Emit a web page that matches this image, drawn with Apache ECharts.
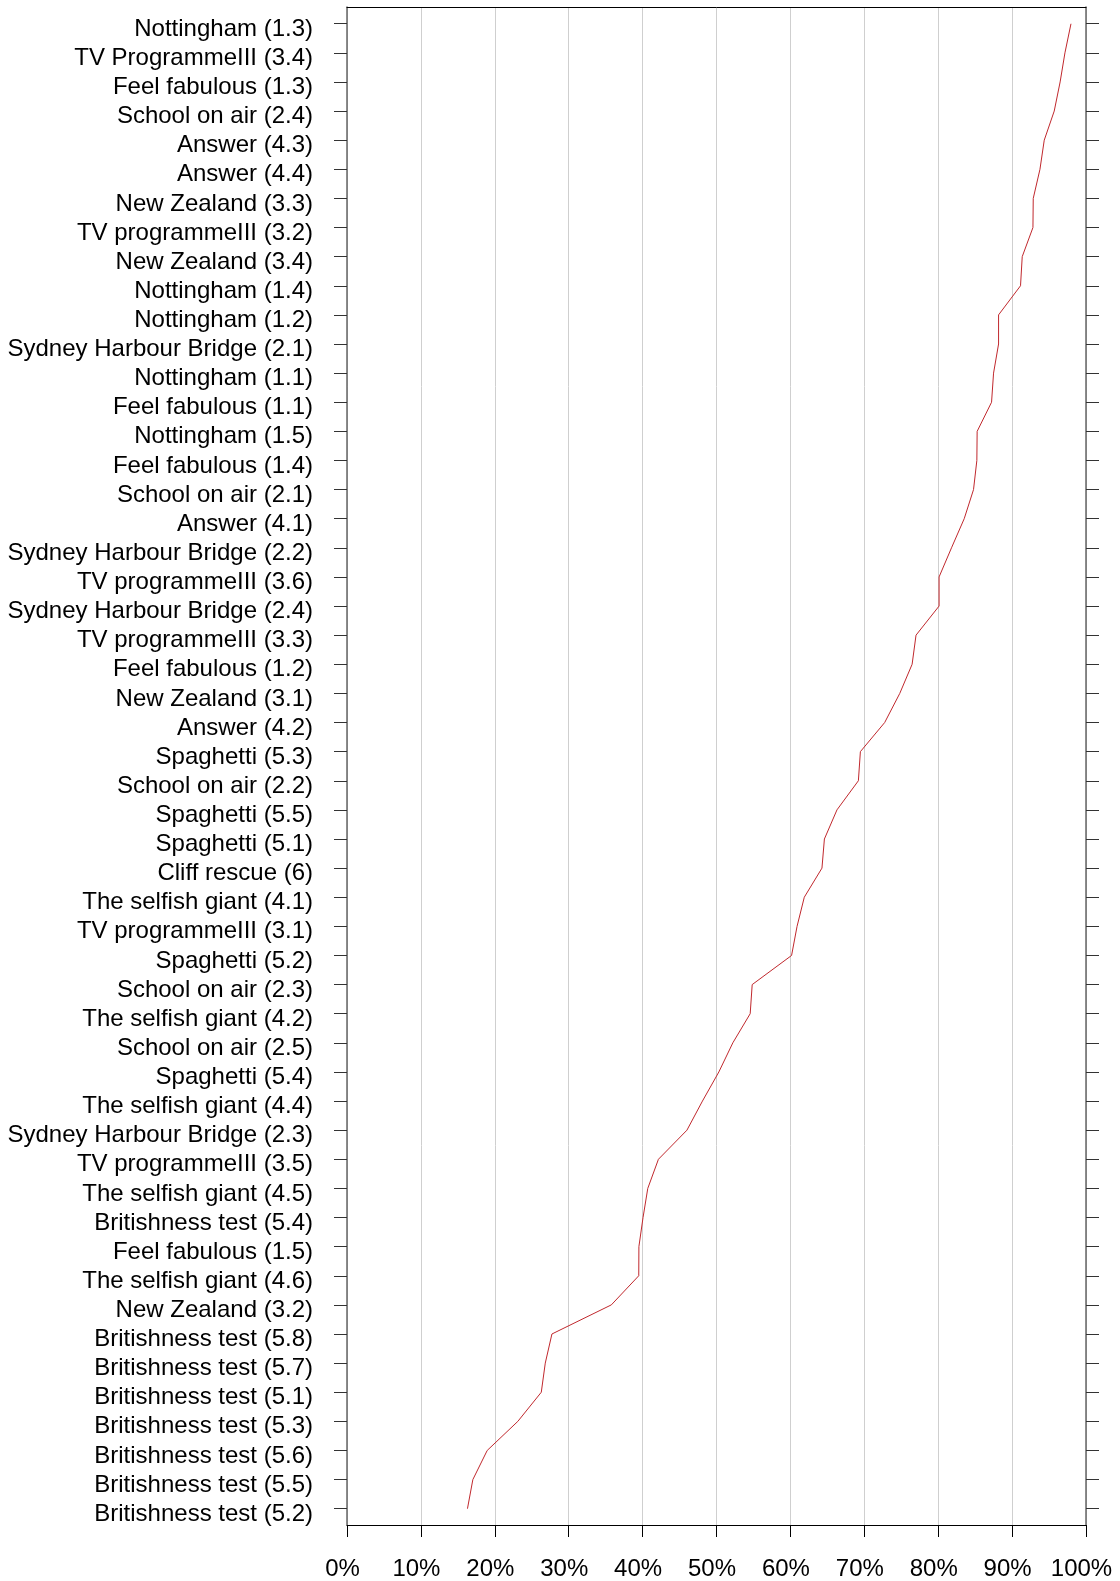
<!DOCTYPE html>
<html>
<head>
<meta charset="utf-8">
<script src="https://cdn.jsdelivr.net/npm/echarts@6/dist/echarts.min.js"></script>
<style>
html,body{margin:0;padding:0;background:#fff;}
#chart{width:1120px;height:1581px;}
</style>
</head>
<body>
<div id="chart"></div>
<script>
const categories = [
  "Nottingham (1.3)", "TV ProgrammeIII (3.4)", "Feel fabulous (1.3)", "School on air (2.4)",
  "Answer (4.3)", "Answer (4.4)", "New Zealand (3.3)", "TV programmeIII (3.2)",
  "New Zealand (3.4)", "Nottingham (1.4)", "Nottingham (1.2)", "Sydney Harbour Bridge (2.1)",
  "Nottingham (1.1)", "Feel fabulous (1.1)", "Nottingham (1.5)", "Feel fabulous (1.4)",
  "School on air (2.1)", "Answer (4.1)", "Sydney Harbour Bridge (2.2)", "TV programmeIII (3.6)",
  "Sydney Harbour Bridge (2.4)", "TV programmeIII (3.3)", "Feel fabulous (1.2)", "New Zealand (3.1)",
  "Answer (4.2)", "Spaghetti (5.3)", "School on air (2.2)", "Spaghetti (5.5)",
  "Spaghetti (5.1)", "Cliff rescue (6)", "The selfish giant (4.1)", "TV programmeIII (3.1)",
  "Spaghetti (5.2)", "School on air (2.3)", "The selfish giant (4.2)", "School on air (2.5)",
  "Spaghetti (5.4)", "The selfish giant (4.4)", "Sydney Harbour Bridge (2.3)", "TV programmeIII (3.5)",
  "The selfish giant (4.5)", "Britishness test (5.4)", "Feel fabulous (1.5)", "The selfish giant (4.6)",
  "New Zealand (3.2)", "Britishness test (5.8)", "Britishness test (5.7)", "Britishness test (5.1)",
  "Britishness test (5.3)", "Britishness test (5.6)", "Britishness test (5.5)", "Britishness test (5.2)"
];
const values = [
  97.97, 97.15, 96.5, 95.7, 94.35, 93.77, 92.86, 92.82, 91.37, 91.14,
  88.17, 88.17, 87.49, 87.22, 85.27, 85.23, 84.78, 83.52, 81.8, 80.12,
  80.12, 77.0, 76.47, 74.8, 72.76, 69.47, 69.2, 66.3, 64.6, 64.27,
  61.88, 60.9, 60.16, 54.83, 54.56, 52.21, 50.32, 48.1, 46.0, 42.14,
  40.7, 40.06, 39.5, 39.48, 35.77, 27.73, 26.83, 26.29, 23.12, 18.97,
  17.03, 16.3
];
const xTicks = [0, 10, 20, 30, 40, 50, 60, 70, 80, 90, 100];

const FONT = "'Liberation Sans', Arial, Helvetica, sans-serif";
const chart = echarts.init(document.getElementById('chart'), null, {renderer: 'canvas'});
const n = categories.length;

const option = {
  animation: false,
  backgroundColor: '#ffffff',
  textStyle: {fontFamily: FONT},
  grid: [
    {left: 347, right: 34, top: 7, bottom: 54},
    {left: 347, right: 34, top: 23.7, bottom: 72.3}
  ],
  xAxis: [
    {
      gridIndex: 0, type: 'value', position: 'bottom',
      min: xTicks[0], max: xTicks[xTicks.length - 1], interval: 10,
      axisLine: {show: true, onZero: false, lineStyle: {color: '#000', width: 1}},
      axisTick: {show: true, inside: false, length: 12, lineStyle: {color: '#000', width: 1}},
      axisLabel: {
        show: true, margin: 32, fontSize: 24, color: '#000', fontFamily: FONT,
        padding: [0, 9, 0, 0],
        formatter: v => v + '%'
      },
      splitLine: {show: true, lineStyle: {color: '#cfcfcf', width: 1}}
    },
    {
      gridIndex: 0, type: 'value', position: 'top', min: 0, max: 100,
      axisLine: {show: true, onZero: false, lineStyle: {color: '#000', width: 1}},
      axisTick: {show: false}, axisLabel: {show: false}, splitLine: {show: false}
    },
    {
      gridIndex: 1, type: 'value', min: 0, max: 100, show: false,
      splitLine: {show: false}
    }
  ],
  yAxis: [
    {
      gridIndex: 0, type: 'value', position: 'left', min: 0, max: 1,
      axisLine: {show: true, onZero: false, lineStyle: {color: '#666', width: 1.5}},
      axisTick: {show: false}, axisLabel: {show: false}, splitLine: {show: false}
    },
    {
      gridIndex: 0, type: 'value', position: 'right', min: 0, max: 1,
      axisLine: {show: true, onZero: false, lineStyle: {color: '#666', width: 1.5}},
      axisTick: {show: false}, axisLabel: {show: false}, splitLine: {show: false}
    },
    {
      gridIndex: 1, type: 'value', position: 'left', inverse: true,
      min: 0, max: n - 1, interval: 1,
      axisLine: {show: false, onZero: false},
      axisTick: {show: true, inside: false, length: 13, lineStyle: {color: '#333', width: 1}},
      axisLabel: {
        show: true, margin: 34, fontSize: 24, color: '#000', fontFamily: FONT,
        verticalAlign: 'top', lineHeight: 11,
        formatter: v => categories[Math.round(v)] || ''
      },
      splitLine: {show: false}
    },
    {
      gridIndex: 1, type: 'value', position: 'right', inverse: true,
      min: 0, max: n - 1, interval: 1,
      axisLine: {show: false, onZero: false},
      axisTick: {show: true, inside: false, length: 13, lineStyle: {color: '#333', width: 1}},
      axisLabel: {show: false},
      splitLine: {show: false}
    }
  ],
  series: [
    {
      type: 'line',
      xAxisIndex: 2, yAxisIndex: 2,
      data: values.map((v, i) => [v, i]),
      symbol: 'none',
      lineStyle: {color: '#c0282d', width: 1},
      z: 5
    }
  ]
};
chart.setOption(option);
</script>
</body>
</html>
